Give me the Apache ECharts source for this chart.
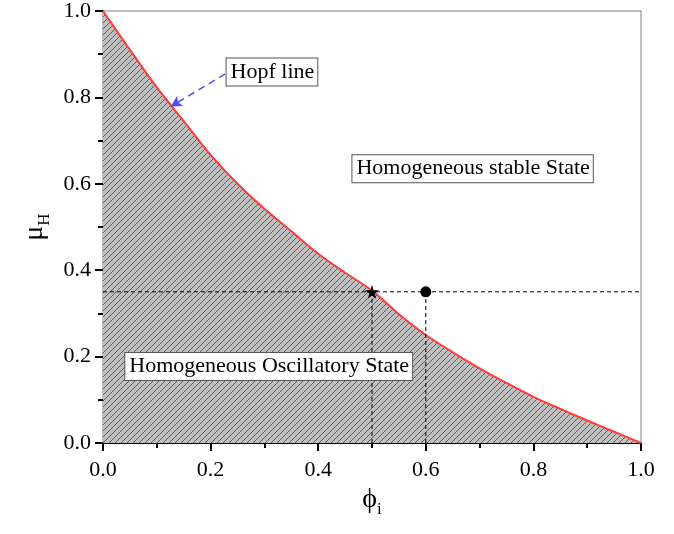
<!DOCTYPE html>
<html>
<head>
<meta charset="utf-8">
<script src="https://cdn.jsdelivr.net/npm/echarts@6/dist/echarts.min.js"></script>
<style>
  html, body { margin: 0; padding: 0; background: #fff; }
  #chart { width: 674px; height: 534px; }
</style>
</head>
<body>
<div id="chart"></div>
<script>
// Hopf boundary mu_H(phi_i), sampled points
const phiValues = [0, 0.05, 0.1, 0.15, 0.2, 0.25, 0.3, 0.35, 0.4, 0.45, 0.5,
                   0.55, 0.6, 0.65, 0.7, 0.75, 0.8, 0.85, 0.9, 0.95, 1.0];
const muValues  = [1.0, 0.91, 0.823, 0.745, 0.667, 0.60, 0.542, 0.49, 0.438, 0.394, 0.353,
                   0.298, 0.250, 0.210, 0.173, 0.139, 0.107, 0.079, 0.052, 0.026, 0];

// Reference level and the two marked points
const refMu = 0.35;
const starPhi = 0.5;
const dotPhi = 0.6;

// Axis ticks
const xTicks = [0, 0.2, 0.4, 0.6, 0.8, 1.0];
const yTicks = [0, 0.2, 0.4, 0.6, 0.8, 1.0];

// Text annotations: [phi, mu, text]
const notes = [
  [0.314, 0.859, 'Hopf line'],
  [0.687, 0.635, 'Homogeneous stable State'],
  [0.308, 0.177, 'Homogeneous Oscillatory State']
];
// Arrow from the "Hopf line" note to the curve
const arrowFrom = [0.227, 0.854];
const arrowTo = [0.126, 0.779];

const FONT = '"Liberation Serif", "Times New Roman", serif';

// hatch tile: grey ground with thin "/" strokes
function hatchTile() {
  const s = 6;
  const c = document.createElement('canvas');
  c.width = s; c.height = s;
  const g = c.getContext('2d');
  g.fillStyle = '#c0c0c0';
  g.fillRect(0, 0, s, s);
  g.strokeStyle = '#444';
  g.lineWidth = 0.8;
  for (const off of [-s, 0, s]) {
    g.beginPath();
    g.moveTo(off - 1, s + 1);
    g.lineTo(off + s + 1, -1);
    g.stroke();
  }
  return c;
}

const curve = phiValues.map((p, i) => [p, muValues[i]]);

const chart = echarts.init(document.getElementById('chart'), null, { renderer: 'canvas' });

const nameRich = {
  a: { fontFamily: FONT, fontSize: 28, color: '#000', lineHeight: 36, verticalAlign: 'middle' },
  b: { fontFamily: FONT, fontSize: 17, color: '#000', lineHeight: 36, verticalAlign: 'bottom' }
};

const axisCommon = {
  type: 'value',
  min: 0, max: 1, interval: 0.2,
  axisLine: { show: true, onZero: false, lineStyle: { color: '#000', width: 1 } },
  axisTick: { show: true, inside: false, length: 8, lineStyle: { color: '#000', width: 2 } },
  minorTick: { show: true, splitNumber: 2, length: 5, lineStyle: { color: '#000', width: 2 } },
  splitLine: { show: false },
  axisLabel: {
    fontFamily: FONT, fontSize: 22, color: '#000', margin: 16,
    formatter: v => v.toFixed(1)
  },
  nameLocation: 'middle',
  nameTextStyle: { fontFamily: FONT, fontSize: 28, color: '#000', rich: nameRich }
};

chart.setOption({
  animation: false,
  backgroundColor: '#fff',
  grid: {
    left: 103, top: 11, right: 33, bottom: 91,
    show: true, borderColor: '#7f7f7f', borderWidth: 1, backgroundColor: 'transparent'
  },
  xAxis: Object.assign({}, axisCommon, {
    name: '{a|ϕ}{b|i}',
    nameGap: 38
  }),
  yAxis: Object.assign({}, axisCommon, {
    name: '{a|μ}{b|H}',
    nameGap: 48,
    axisLabel: Object.assign({}, axisCommon.axisLabel, { margin: 12 })
  }),
  series: [
    {
      name: 'boundary',
      type: 'line',
      data: curve,
      smooth: 0.3,
      showSymbol: false,
      lineStyle: { color: '#ff3b3b', width: 2 },
      areaStyle: { color: { image: hatchTile(), repeat: 'repeat' }, opacity: 1, origin: 'start' },
      z: 2,
      markLine: {
        silent: true,
        symbol: ['none', 'arrow'],
        symbolSize: [9, 11],
        label: { show: false },
        lineStyle: { color: '#4d4dff', width: 1.5, type: [7, 5] },
        data: [[{ coord: arrowFrom }, { coord: arrowTo }]]
      }
    },
    {
      name: 'level',
      type: 'line',
      data: [[0, refMu], [1, refMu]],
      showSymbol: false,
      lineStyle: { color: '#000', width: 1, type: [4, 3] },
      z: 3
    },
    {
      name: 'drop-star',
      type: 'line',
      data: [[starPhi, 0], [starPhi, refMu]],
      showSymbol: false,
      lineStyle: { color: '#000', width: 1, type: [4, 3] },
      z: 3
    },
    {
      name: 'drop-dot',
      type: 'line',
      data: [[dotPhi, 0], [dotPhi, refMu]],
      showSymbol: false,
      lineStyle: { color: '#000', width: 1, type: [4, 3] },
      z: 3
    },
    {
      name: 'star',
      type: 'scatter',
      data: [[starPhi, refMu]],
      symbol: 'path://M50,0 L61,35 L98,35 L68,57 L79,91 L50,70 L21,91 L32,57 L2,35 L39,35 Z',
      symbolSize: 14,
      itemStyle: { color: '#000', opacity: 1 },
      z: 5
    },
    {
      name: 'dot',
      type: 'scatter',
      data: [[dotPhi, refMu]],
      symbol: 'circle',
      symbolSize: 11,
      itemStyle: { color: '#000', opacity: 1 },
      z: 5
    },
    {
      name: 'notes',
      type: 'scatter',
      data: notes,
      symbolSize: 0,
      silent: true,
      z: 6,
      itemStyle: { opacity: 1 },
      label: {
        show: true,
        position: 'inside',
        formatter: p => p.data[2],
        fontFamily: FONT,
        fontSize: 22,
        color: '#000',
        backgroundColor: '#fff',
        borderColor: '#555',
        borderWidth: 1,
        padding: [3, 3, 2, 4]
      }
    }
  ]
});
</script>
</body>
</html>
